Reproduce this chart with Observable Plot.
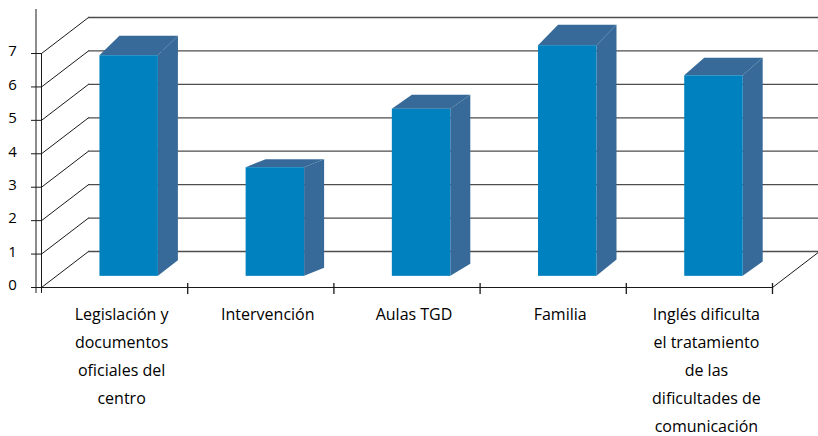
<!DOCTYPE html>
<html>
<head>
<meta charset="utf-8">
<script src="https://cdn.jsdelivr.net/npm/d3@7"></script>
<script src="https://cdn.jsdelivr.net/npm/@observablehq/plot@0.6"></script>
<style>
  html, body { margin: 0; padding: 0; background: #fff; }
</style>
</head>
<body>
<div id="chart"></div>
<script>
// Categories (line breaks as wrapped on the axis) and their values
const categories = [
  "Legislación y\ndocumentos\noficiales del\ncentro",
  "Intervención",
  "Aulas TGD",
  "Familia",
  "Inglés dificulta\nel tratamiento\nde las\ndificultades de\ncomunicación"
];
const values = [6.6, 3.25, 5.0, 6.9, 6.0];
const yTicks = [0, 1, 2, 3, 4, 5, 6, 7];

// Layout
const W = 818, H = 436;
const mL = 41, mR = 46, mT = 53, mB = 149;
const pxPerX = (W - mL - mR) / categories.length;
const pxPerY = (H - mT - mB) / 7;
const ux = p => p / pxPerX;   // pixels -> x units
const uy = p => p / pxPerY;   // pixels -> y units

// Oblique 3D projection of the wall/floor box
const WALL_DX = 47, WALL_DY = 36;
const FRONT_T = 0.31;          // depth fraction where the bar front faces sit
const BAR_W = 0.4;             // bar width as share of a band
const BAR_DX = 20;             // bar depth in pixels (horizontal)

const front = "#0081bf", shade = "#376a98";

const bars = values.map((v, i) => {
  const x0 = i + 0.5 - BAR_W / 2 + ux(FRONT_T * WALL_DX);
  const x1 = x0 + BAR_W;
  const yb = uy(FRONT_T * WALL_DY);
  const yt = yb + v;
  const dB = 0.5 + 2.3 * v;                 // receding offset at the base
  const dT = Math.max(dB, 3.4 * v - 3);     // receding offset at the top
  return {i, v, x0, x1, yb, yt, bx: ux(BAR_DX), dB: uy(dB), dT: uy(dT)};
});

const sidePts = bars.flatMap(b => [
  {id: b.i, x: b.x1, y1: b.yb, y2: b.yt},
  {id: b.i, x: b.x1 + b.bx, y1: b.yb + b.dB, y2: b.yt + b.dT}
]);
const topPts = bars.flatMap(b => [
  {id: b.i, x: b.x0, y1: b.yt, y2: b.yt},
  {id: b.i, x: b.x0 + b.bx, y1: b.yt, y2: b.yt + b.dT},
  {id: b.i, x: b.x1, y1: b.yt, y2: b.yt + b.dT},
  {id: b.i, x: b.x1 + b.bx, y1: b.yt + b.dT, y2: b.yt + b.dT}
]);

const n = categories.length;

const chart = Plot.plot({
  width: W,
  height: H,
  marginLeft: mL,
  marginRight: mR,
  marginTop: mT,
  marginBottom: mB,
  style: {fontFamily: "'Open Sans', sans-serif", fontSize: "15px", color: "#000", background: "#fff"},
  x: {domain: [0, n], axis: null},
  y: {domain: [0, 7], axis: null},
  marks: [
    // back wall gridlines
    Plot.ruleY(yTicks, {
      y: d => d + uy(WALL_DY), x1: ux(WALL_DX), x2: n + ux(WALL_DX),
      stroke: "#4d4d4d", strokeWidth: 1.3
    }),
    // side wall receding gridlines
    Plot.link(yTicks, {
      x1: 0, y1: d => d, x2: ux(WALL_DX), y2: d => d + uy(WALL_DY),
      stroke: "#1a1a1a", strokeWidth: 1
    }),
    // floor right edge
    Plot.link([0], {
      x1: n, y1: 0, x2: n + ux(WALL_DX), y2: uy(WALL_DY),
      stroke: "#1a1a1a", strokeWidth: 1
    }),
    // bars: side, top, front
    Plot.area(sidePts, {x1: "x", y1: "y1", y2: "y2", z: "id", fill: shade, curve: "linear"}),
    Plot.area(topPts, {x1: "x", y1: "y1", y2: "y2", z: "id", fill: shade, curve: "linear"}),
    Plot.rect(bars, {x1: "x0", x2: "x1", y1: "yb", y2: "yt", fill: front}),
    // value axis
    Plot.ruleX([0], {dx: -5.5, y1: -uy(6), y2: 7 + uy(44), stroke: "#1a1a1a"}),
    Plot.ruleX([0], {y1: -uy(6), y2: 7, stroke: "#1a1a1a"}),
    Plot.ruleY(yTicks, {y: d => d, x1: -ux(10), x2: 0, stroke: "#1a1a1a"}),
    Plot.text(yTicks, {x: -ux(29), y: d => d, text: d => String(d), textAnchor: "middle", dy: -2, fill: "#000", fontSize: 15}),
    // category axis
    Plot.ruleY([0], {x1: -ux(8), x2: n, stroke: "#1a1a1a"}),
    Plot.ruleX(d3.range(1, n + 1), {y1: -uy(7), y2: uy(4), stroke: "#1a1a1a", strokeWidth: 1.3}),
    Plot.text(categories, {
      x: (d, i) => i + 0.5 + ux(7), y: 0, text: d => d,
      lineAnchor: "top", dy: 13, lineHeight: 1.75, fontSize: 16,
      textAnchor: "middle", fill: "#000"
    })
  ]
});

document.getElementById("chart").append(chart);
</script>
</body>
</html>
